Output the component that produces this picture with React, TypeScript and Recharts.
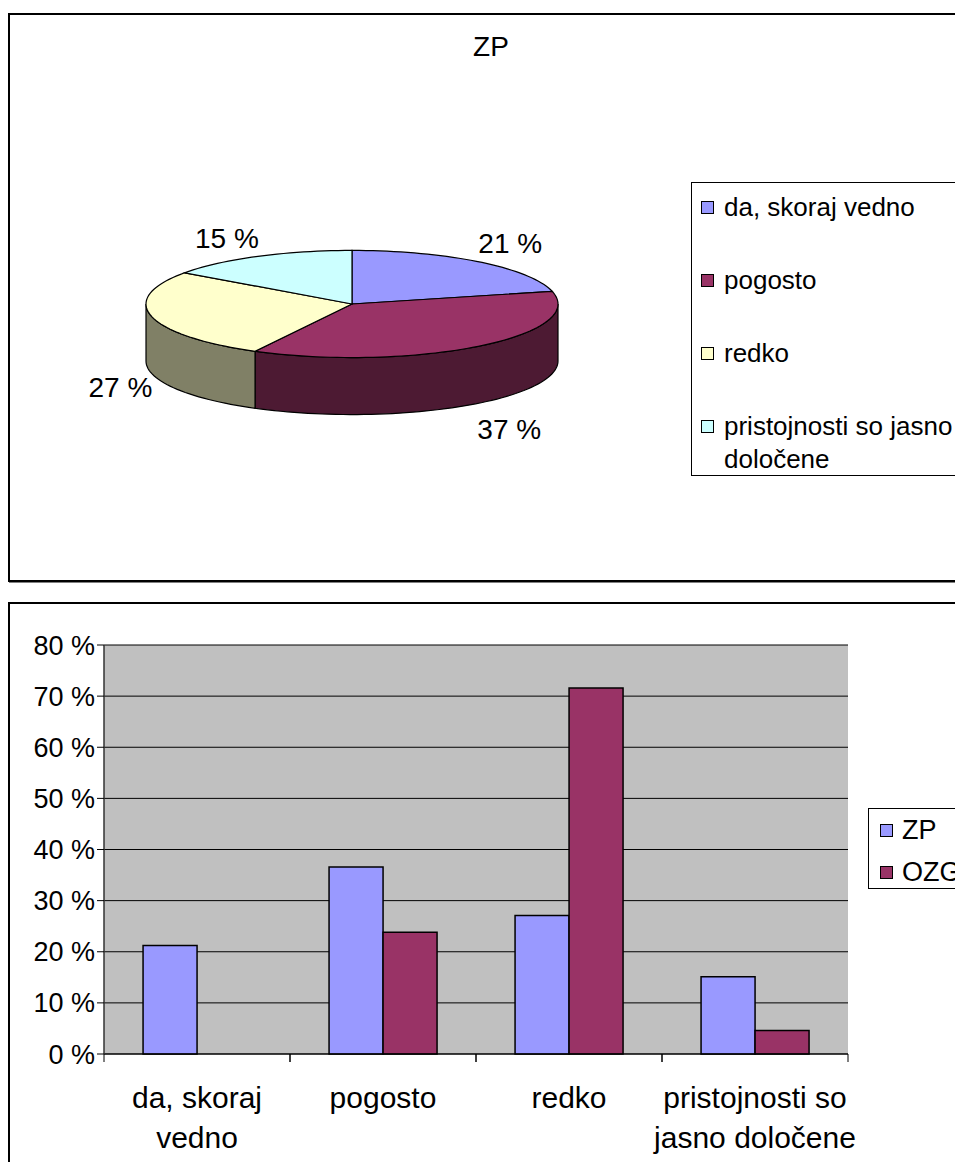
import React from 'react';
import { PieChart, Pie, Cell, BarChart, Bar, XAxis, YAxis, CartesianGrid } from 'recharts';

const CATEGORIES = ['da, skoraj vedno', 'pogosto', 'redko', 'pristojnosti so jasno določene'];
const SERIES = ['ZP', 'OZG'];
const ZP = [21.2, 36.6, 27.1, 15.1];
const OZG = [0, 23.8, 71.6, 4.6];
const Y_TICKS = [0, 10, 20, 30, 40, 50, 60, 70, 80];
const PIE_TITLE = 'ZP';

const SLICE_COLORS = ['#9999ff', '#993366', '#ffffcc', '#ccffff'];
const SERIES_COLORS = ['#9999ff', '#993366'];
const FONT = '"Liberation Sans", Arial, Helvetica, sans-serif';

const pieData = CATEGORIES.map((name, i) => ({ name, value: ZP[i] }));
const barData = CATEGORIES.map((name, i) => ({ name, ZP: ZP[i], OZG: OZG[i] }));

// 3d look of the pie
const TILT = 0.26;
const DEPTH = 57;

const darken = (hex: string) =>
  '#' + [1, 3, 5].map((i) => Math.round(parseInt(hex.slice(i, i + 2), 16) * 0.5).toString(16).padStart(2, '0')).join('');

const arcPoints = (cx: number, cy: number, rx: number, ry: number, from: number, to: number, dy = 0) => {
  const n = Math.max(2, Math.ceil(Math.abs(to - from) / 2));
  return Array.from({ length: n + 1 }, (_, k) => {
    const a = ((from + ((to - from) * k) / n) * Math.PI) / 180;
    return [cx + rx * Math.cos(a), cy - ry * Math.sin(a) + dy];
  });
};

const toPath = (pts: number[][]) => 'M' + pts.map((p) => p[0].toFixed(2) + ',' + p[1].toFixed(2)).join('L') + 'Z';

// greedy word wrap measured on a canvas
let ctx: CanvasRenderingContext2D | null = null;
const wrapWords = (text: string, maxWidth: number, fontSize: number) => {
  if (!ctx) ctx = document.createElement('canvas').getContext('2d');
  const measure = (t: string) => {
    if (!ctx) return t.length * fontSize * 0.5;
    ctx.font = `${fontSize}px "Liberation Sans", Arial, sans-serif`;
    return ctx.measureText(t).width;
  };
  const lines: string[] = [];
  let cur = '';
  text.split(' ').forEach((w) => {
    const next = cur ? cur + ' ' + w : w;
    if (cur && measure(next) > maxWidth) {
      lines.push(cur);
      cur = w;
    } else {
      cur = next;
    }
  });
  if (cur) lines.push(cur);
  return lines;
};

// draws one slice as a tilted 3d wedge, using the angles recharts computed
const Slice3D = (props: any) => {
  const { cx, cy, outerRadius, startAngle, endAngle, percent, index } = props;
  const rx = outerRadius;
  const ry = outerRadius * TILT;
  const fill = SLICE_COLORS[index % SLICE_COLORS.length];
  const lo = Math.min(startAngle, endAngle);
  const hi = Math.max(startAngle, endAngle);
  const sLo = Math.max(lo, -180);
  const sHi = Math.min(hi, 0);

  let side = null;
  if (sHi > sLo) {
    const top = arcPoints(cx, cy, rx, ry, sLo, sHi);
    const bottom = arcPoints(cx, cy, rx, ry, sHi, sLo, DEPTH);
    side = <path d={toPath([...top, ...bottom])} fill={darken(fill)} stroke="#000" strokeWidth={1.2} />;
  }
  const face = [[cx, cy], ...arcPoints(cx, cy, rx, ry, startAngle, endAngle)];

  const mid = (startAngle + endAngle) / 2;
  const rad = (mid * Math.PI) / 180;
  const s = Math.sin(rad);
  const c = Math.cos(rad);
  const px = cx + rx * c;
  const py = cy - ry * s + (s < 0 ? DEPTH : 0);
  const lx = px + Math.sign(c) * 31;
  const ly = s < 0 ? py + 10 + 20 * Math.abs(s) : py - 18;

  return (
    <g>
      {side}
      <path d={toPath(face)} fill={fill} stroke="#000" strokeWidth={1.2} />
      <text x={lx} y={ly} textAnchor="middle" dominantBaseline="central" fontSize={28} fontFamily={FONT} fill="#000">
        {Math.round(percent * 100)} %
      </text>
    </g>
  );
};

const CategoryTick = (props: any) => {
  const { x, y, payload } = props;
  const half = payload && payload.offset ? payload.offset : 93;
  const lines = wrapWords(String(payload.value), 210, 30);
  return (
    <g>
      <line x1={x - half} x2={x - half} y1={y - 8} y2={y} stroke="#000" />
      <line x1={x + half} x2={x + half} y1={y - 8} y2={y} stroke="#000" />
      <text textAnchor="middle" fontSize={30} fontFamily={FONT} fill="#000">
        {lines.map((l, i) => (
          <tspan key={i} x={x} y={y + 46 + i * 40}>
            {l}
          </tspan>
        ))}
      </text>
    </g>
  );
};

const Swatch: React.FC<{ color: string }> = ({ color }) => (
  <span style={{ display: 'inline-block', width: 11, height: 11, border: '1px solid #000', background: color, flexShrink: 0 }} />
);

const panel: React.CSSProperties = {
  position: 'absolute',
  left: 8,
  width: 1000,
  border: '2px solid #000',
  boxShadow: '1px 1px 0 #808080',
  background: '#fff',
};

export default function App() {
  return (
    <div style={{ position: 'fixed', left: 0, top: 0, width: 955, height: 1162, overflow: 'hidden', background: '#fff', fontFamily: FONT, color: '#000' }}>
      {/* pie panel */}
      <div style={{ ...panel, top: 13, height: 565 }} />
      <div style={{ position: 'absolute', left: 391, top: 31, width: 200, textAlign: 'center', fontSize: 28, lineHeight: '32px' }}>
        {PIE_TITLE}
      </div>
      <div style={{ position: 'absolute', left: 0, top: 0 }}>
        <PieChart width={955} height={590}>
          <Pie
            data={pieData}
            dataKey="value"
            nameKey="name"
            cx={347}
            cy={299}
            outerRadius={206}
            startAngle={90}
            endAngle={-270}
            stroke="none"
            labelLine={false}
            label={Slice3D}
            isAnimationActive={false}
          >
            {pieData.map((d, i) => (
              <Cell key={d.name} fill={SLICE_COLORS[i]} fillOpacity={0} stroke="none" />
            ))}
          </Pie>
        </PieChart>
      </div>
      <div style={{ position: 'absolute', left: 691, top: 182, width: 290, height: 294, border: '1px solid #000', fontSize: 26, lineHeight: '33px', paddingTop: 8, boxSizing: 'border-box' }}>
        {CATEGORIES.map((name, i) => (
          <div key={name} style={{ display: 'flex', alignItems: 'flex-start', marginBottom: 40 }}>
            <div style={{ marginLeft: 9, marginTop: 10, display: 'flex' }}>
              <Swatch color={SLICE_COLORS[i]} />
            </div>
            <div style={{ marginLeft: 10, width: 236 }}>{name}</div>
          </div>
        ))}
      </div>

      {/* bar panel */}
      <div style={{ ...panel, top: 602, height: 600 }} />
      <div style={{ position: 'absolute', left: 0, top: 602 }}>
        <BarChart
          width={955}
          height={560}
          data={barData}
          margin={{ top: 43, right: 107, bottom: 0, left: 0 }}
          barCategoryGap="21%"
          barGap={0}
        >
          <CartesianGrid vertical={false} stroke="#000" fill="#c0c0c0" />
          <XAxis
            dataKey="name"
            height={108}
            interval={0}
            axisLine={{ stroke: '#000' }}
            tickLine={false}
            tickSize={8}
            tickMargin={0}
            tick={<CategoryTick />}
          />
          <YAxis
            width={104}
            domain={[0, 80]}
            ticks={Y_TICKS}
            interval={0}
            tickFormatter={(v: number) => `${v} %`}
            tickSize={7}
            tickMargin={2}
            axisLine={{ stroke: '#333', strokeWidth: 1.5 }}
            tickLine={{ stroke: '#000' }}
            tick={{ fill: '#000', fontSize: 27, fontFamily: FONT }}
          />
          <YAxis yAxisId="r" orientation="right" width={0} tick={false} tickLine={false} axisLine={{ stroke: '#808080' }} />
          {SERIES.map((s, i) => (
            <Bar key={s} dataKey={s} fill={SERIES_COLORS[i]} stroke="#000" strokeWidth={1.5} isAnimationActive={false} />
          ))}
        </BarChart>
      </div>
      <div style={{ position: 'absolute', left: 868, top: 808, width: 140, height: 81, border: '1px solid #000', fontSize: 27, lineHeight: '32px', paddingTop: 5, boxSizing: 'border-box' }}>
        {SERIES.map((s, i) => (
          <div key={s} style={{ display: 'flex', alignItems: 'center', marginBottom: 10 }}>
            <div style={{ marginLeft: 11, display: 'flex' }}>
              <Swatch color={SERIES_COLORS[i]} />
            </div>
            <div style={{ marginLeft: 9 }}>{s}</div>
          </div>
        ))}
      </div>
    </div>
  );
}
